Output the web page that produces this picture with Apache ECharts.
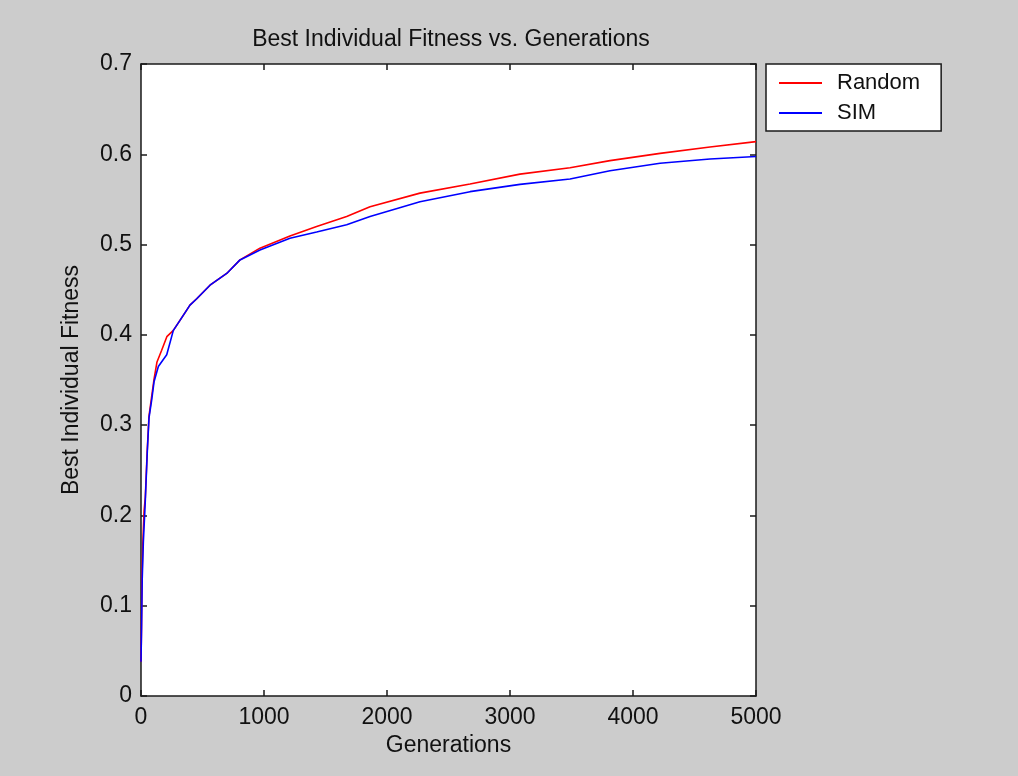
<!DOCTYPE html>
<html>
<head>
<meta charset="utf-8">
<script src="https://cdn.jsdelivr.net/npm/echarts@6/dist/echarts.min.js"></script>
<style>
html,body{margin:0;padding:0;background:#cccccc;}
#chart{width:1018px;height:776px;}
</style>
</head>
<body>
<div id="chart"></div>
<script>
// ---- data ----
const titleText = 'Best Individual Fitness vs. Generations';
const xName = 'Generations';
const yName = 'Best Individual Fitness';
const seriesNames = ['Random', 'SIM'];

const randomGen = [0, 4, 8, 15, 25, 35, 50, 65, 85, 105, 130, 168, 210, 263, 317, 398, 453, 561, 697, 805, 967, 1211, 1428, 1672, 1862, 2268, 2675, 3081, 3488, 3813, 4220, 4626, 5000];
const randomFit = [0.038, 0.075, 0.13, 0.17, 0.205, 0.22, 0.27, 0.31, 0.33, 0.35, 0.37, 0.383, 0.398, 0.405, 0.416, 0.433, 0.44, 0.455, 0.468, 0.483, 0.496, 0.5095, 0.52, 0.531, 0.542, 0.557, 0.567, 0.578, 0.585, 0.593, 0.601, 0.608, 0.614];

const simGen = [0, 5, 10, 19, 33, 51, 65, 87, 106, 141, 209, 263, 317, 398, 453, 561, 697, 805, 967, 1211, 1428, 1672, 1862, 2268, 2675, 3081, 3488, 3813, 4220, 4626, 5000];
const simFit = [0.038, 0.08, 0.13, 0.17, 0.21, 0.27, 0.308, 0.328, 0.348, 0.365, 0.378, 0.405, 0.416, 0.433, 0.44, 0.455, 0.468, 0.483, 0.494, 0.507, 0.514, 0.522, 0.531, 0.5475, 0.5586, 0.5667, 0.5726, 0.5818, 0.59, 0.5948, 0.5975];

const xMin = 0, xMax = 5000, xStep = 1000;
const yMin = 0, yMax = 0.7, yStep = 0.1;

// ---- chart ----
const font = "'Liberation Sans', Arial, sans-serif";
const zip = (a, b) => a.map((v, i) => [v, b[i]]);
const axisLineStyle = { color: '#1a1a1a', width: 1.5 };

const chart = echarts.init(document.getElementById('chart'), null, { renderer: 'canvas' });
chart.setOption({
  backgroundColor: '#cccccc',
  animation: false,
  textStyle: { fontFamily: font },
  title: {
    text: titleText,
    left: 446,
    top: 23,
    textAlign: 'center',
    textStyle: { fontFamily: font, fontSize: 23, fontWeight: 'normal', color: '#111' }
  },
  legend: {
    orient: 'vertical',
    left: 766,
    top: 64,
    padding: [8, 21, 7, 13],
    itemGap: 8,
    itemWidth: 43,
    itemHeight: 2,
    icon: 'rect',
    backgroundColor: '#ffffff',
    borderColor: '#1a1a1a',
    borderWidth: 1.5,
    borderRadius: 0,
    textStyle: { fontFamily: font, fontSize: 22, color: '#111', padding: [0, 0, 0, 10] },
    data: seriesNames
  },
  grid: { left: 141, top: 64, width: 615, height: 632, containLabel: false, show: true, backgroundColor: '#ffffff', borderWidth: 0 },
  xAxis: [{
    type: 'value', min: xMin, max: xMax, interval: xStep,
    name: xName, nameLocation: 'middle', nameGap: 38,
    nameTextStyle: { fontFamily: font, fontSize: 23, color: '#111' },
    axisLine: { show: true, onZero: false, lineStyle: axisLineStyle },
    axisTick: { show: true, inside: true, length: 6, lineStyle: axisLineStyle },
    axisLabel: { fontFamily: font, fontSize: 23, color: '#111', margin: 10, formatter: v => String(v) },
    splitLine: { show: false }
  }, {
    type: 'value', min: xMin, max: xMax, interval: xStep, position: 'top',
    axisLine: { show: true, onZero: false, lineStyle: axisLineStyle },
    axisTick: { show: true, inside: true, length: 6, lineStyle: axisLineStyle },
    axisLabel: { show: false },
    splitLine: { show: false }
  }],
  yAxis: [{
    type: 'value', min: yMin, max: yMax, interval: yStep,
    name: yName, nameLocation: 'middle', nameGap: 58, nameRotate: 90,
    nameTextStyle: { fontFamily: font, fontSize: 23, color: '#111' },
    axisLine: { show: true, onZero: false, lineStyle: axisLineStyle },
    axisTick: { show: true, inside: true, length: 6, lineStyle: axisLineStyle },
    axisLabel: { fontFamily: font, fontSize: 23, color: '#111', margin: 9 },
    splitLine: { show: false }
  }, {
    type: 'value', min: yMin, max: yMax, interval: yStep, position: 'right',
    axisLine: { show: true, onZero: false, lineStyle: axisLineStyle },
    axisTick: { show: true, inside: true, length: 6, lineStyle: axisLineStyle },
    axisLabel: { show: false },
    splitLine: { show: false }
  }],
  series: [{
    name: seriesNames[0], type: 'line', data: zip(randomGen, randomFit),
    symbol: 'none', showSymbol: false,
    lineStyle: { color: '#ff0000', width: 1.6 }, itemStyle: { color: '#ff0000' }
  }, {
    name: seriesNames[1], type: 'line', data: zip(simGen, simFit),
    symbol: 'none', showSymbol: false,
    lineStyle: { color: '#0000ff', width: 1.6 }, itemStyle: { color: '#0000ff' }
  }]
});
</script>
</body>
</html>
